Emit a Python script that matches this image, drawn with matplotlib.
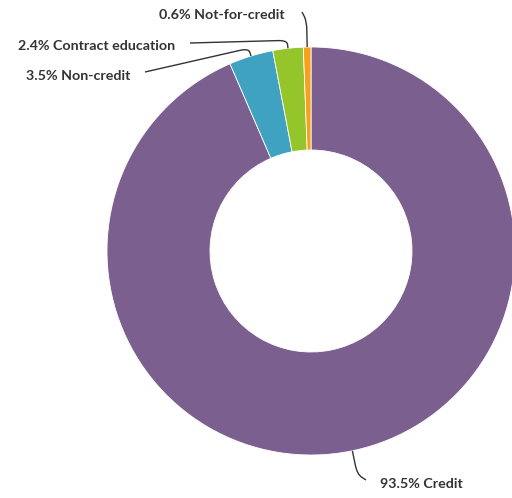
import numpy as np
import matplotlib.pyplot as plt
from matplotlib.path import Path
from matplotlib.patches import PathPatch

# Datos
categorias = ["Credit", "Non-credit", "Contract education", "Not-for-credit"]
porcentajes = [93.5, 3.5, 2.4, 0.6]
colores = ["#7b5f8e", "#3fa2c1", "#94c52a", "#f7a11a"]

plt.rcParams['font.family'] = ['Lato', 'DejaVu Sans']

W, H = 512, 498
fig = plt.figure(figsize=(W / 100, H / 100), dpi=100)
ax = fig.add_axes([0, 0, 1, 1])

cx, cy = 311, H - 251
radio = 204
ancho = 103

wedges, _ = ax.pie(porcentajes, colors=colores, startangle=90, counterclock=False,
                   radius=radio, center=(cx, cy),
                   wedgeprops=dict(width=ancho, edgecolor='white', linewidth=0.6))

# pie cambia los limites, se fijan despues
ax.set_xlim(0, W)
ax.set_ylim(0, H)
ax.set_aspect('equal')
ax.axis('off')

# Posicion de las etiquetas (pixeles, y hacia arriba)
# (x texto, y texto, alineacion, x inicio linea, y inicio linea, extension radial)
etiquetas = {
    "Credit": (380, H - 484, 'left', 366, H - 480, 24),
    "Non-credit": (130, H - 76, 'right', 145, H - 72, 8),
    "Contract education": (175, H - 46, 'right', 190, H - 43, 8),
    "Not-for-credit": (285, H - 15, 'right', 302, H - 12, 26),
}


def conector(p0, p1, p2, r):
    # linea con esquina redondeada en p1
    p0, p1, p2 = map(np.asarray, (p0, p1, p2))
    d0 = p1 - p0
    d2 = p2 - p1
    a = p1 - d0 / np.linalg.norm(d0) * min(r, np.linalg.norm(d0) * 0.5)
    b = p1 + d2 / np.linalg.norm(d2) * min(r, np.linalg.norm(d2) * 0.5)
    verts = [p0, a, p1, b, p2]
    codes = [Path.MOVETO, Path.LINETO, Path.CURVE3, Path.CURVE3, Path.LINETO]
    return Path(verts, codes)


color_texto = "#333333"
for w, cat, pct in zip(wedges, categorias, porcentajes):
    ang = np.deg2rad((w.theta1 + w.theta2) / 2)
    tx, ty, ha, lx, ly, ext = etiquetas[cat]
    # punto en el borde y codo radial
    bx, by = cx + radio * np.cos(ang), cy + radio * np.sin(ang)
    ex, ey = cx + (radio + ext) * np.cos(ang), cy + (radio + ext) * np.sin(ang)
    ax.add_patch(PathPatch(conector((lx, ly), (ex, ey), (bx, by), 9),
                           facecolor='none', edgecolor=color_texto, lw=1))
    ax.text(tx, ty, f"{pct}% {cat}", ha=ha, va='center', fontsize=10.3,
            fontweight='bold', color=color_texto)

fig.savefig("out.png", dpi=100)
